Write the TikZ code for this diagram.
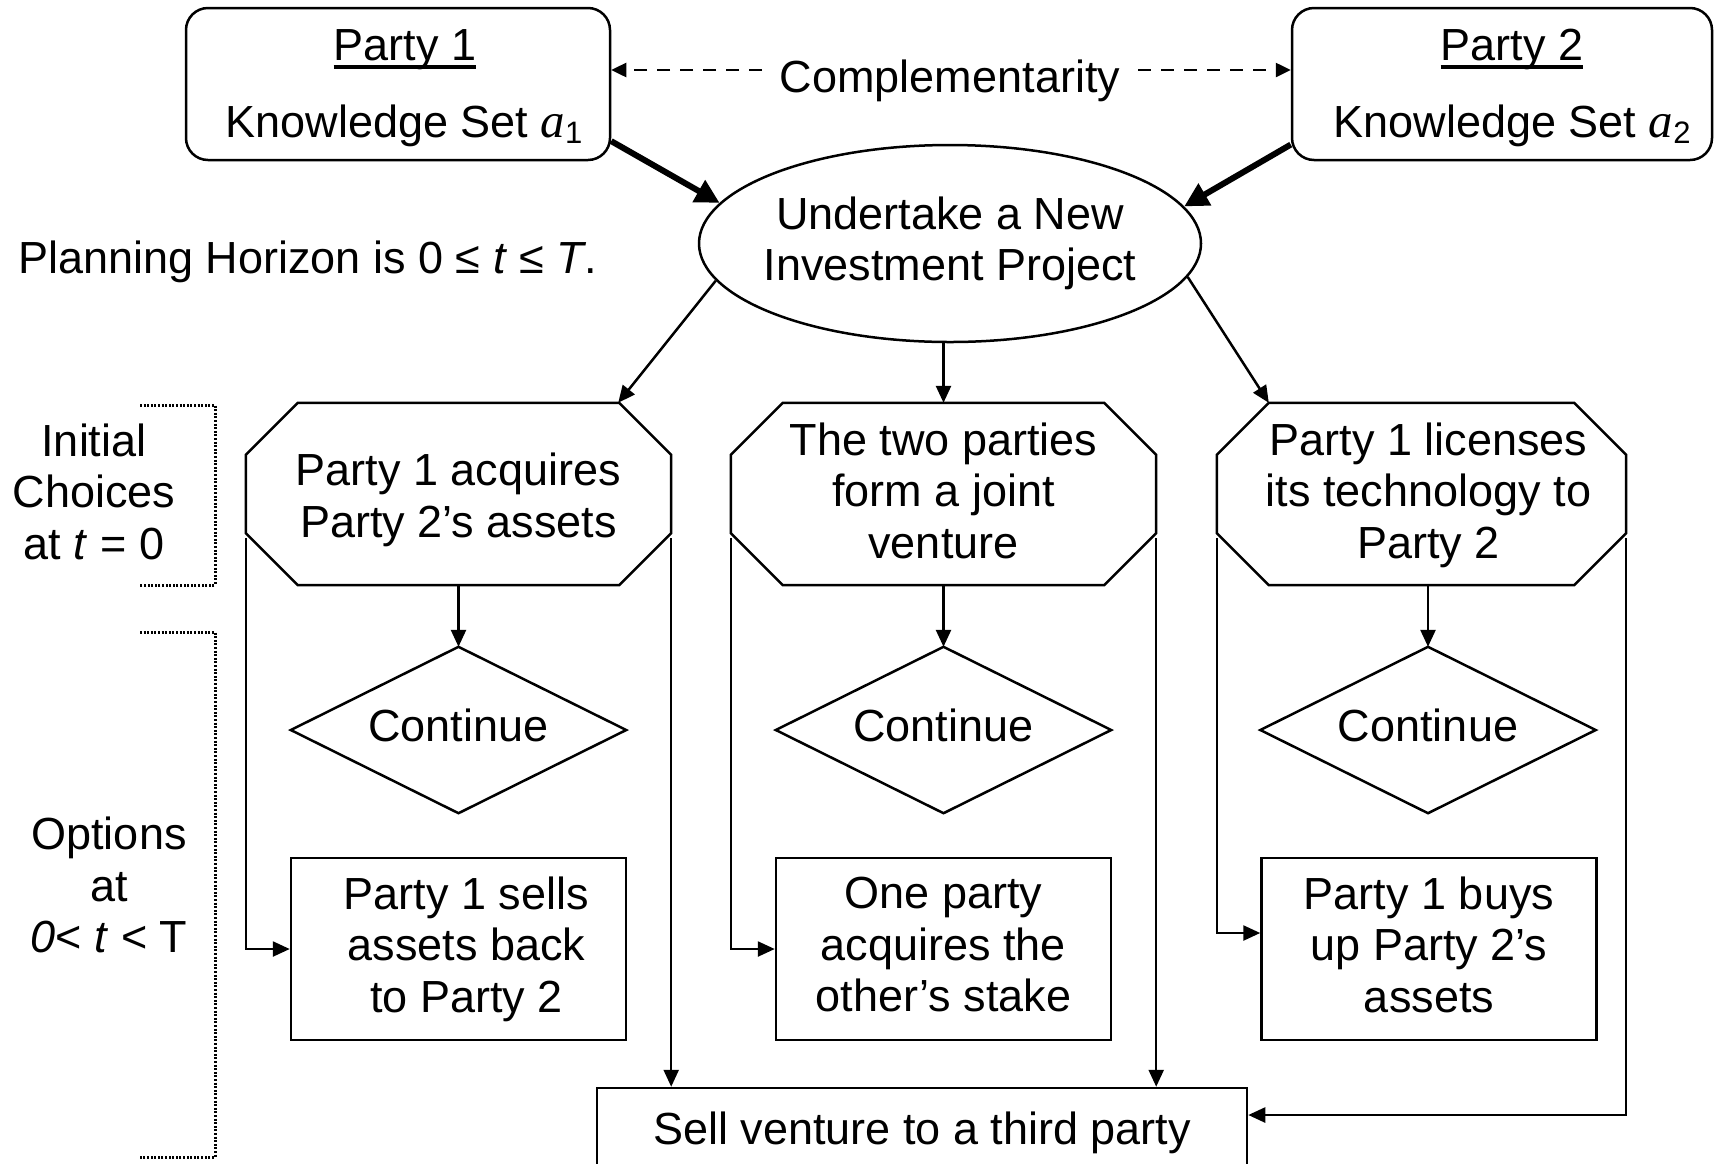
\documentclass[tikz,border=0pt]{standalone}
\usepackage{fontspec}
\setmainfont{Liberation Sans}
\newfontfamily\timesfont{Liberation Serif}
\usetikzlibrary{arrows.meta,calc,shapes.geometric}
\newcommand\kset[1]{{\timesfont\itshape\fontsize{49}{49}\selectfont a}\raisebox{-6pt}{\fontsize{31}{31}\selectfont #1}}
\newcommand\ph{\vphantom{Ag}}
\newlength\ulw
\newcommand\uln[1]{\settowidth\ulw{#1}#1\llap{\rule[-8.5pt]{\ulw}{3.2pt}}}
\newcommand\octpath[2]{\draw[ln] ($(#1.north west)+(#2,0)$) -- ($(#1.north east)+(-#2,0)$) -- ($(#1.north east)+(0,#2)$) -- ($(#1.south east)+(0,-#2)$) -- ($(#1.south east)+(-#2,0)$) -- ($(#1.south west)+(#2,0)$) -- ($(#1.south west)+(0,-#2)$) -- ($(#1.north west)+(0,#2)$) -- cycle;}
\newcommand\diapath[1]{\draw[ln] (#1.north) -- (#1.east) -- (#1.south) -- (#1.west) -- cycle;}
\tikzset{
  lbl/.style={inner sep=0pt, font=\fontsize{45}{51.5}\selectfont, align=center},
  ln/.style={line width=2.5pt},
  arr/.style={line width=2.5pt, -{Triangle[length=17pt,width=15pt]}},
  thickarr/.style={line width=6pt, -{Triangle[length=24pt,width=24pt]}},
  dasharr/.style={line width=2.5pt, dash pattern=on 13pt off 10pt, -{Triangle[length=15pt,width=14pt]}},
  brk/.style={line width=3pt, dash pattern=on 2pt off 1.6pt},
  rbox/.style={draw, ln, lbl, minimum width=335pt, minimum height=182pt},
}
\begin{document}
\begin{tikzpicture}[x=1pt,y=-1pt]
\useasboundingbox (0,0) rectangle (1715,1163);
\clip (0,0) rectangle (1715,1163);
\fill[white] (0,0) rectangle (1715,1163);

% top party boxes
\node[draw, ln, rounded corners=22pt, minimum width=424pt, minimum height=152pt, inner sep=0pt] (p1) at (398,84) {};
\node[lbl, anchor=base] (p1t) at (405,60) {\uln{Party 1}};
\node[lbl, anchor=base] (p1k) at (404,137) {Knowledge Set \kset{1}};
\node[draw, ln, rounded corners=22pt, minimum width=420pt, minimum height=152pt, inner sep=0pt] (p2) at (1502,84) {};
\node[lbl, anchor=base] (p2t) at (1512,60) {\uln{Party 2}};
\node[lbl, anchor=base] (p2k) at (1512,137) {Knowledge Set \kset{2}};

\node[lbl, anchor=base] (c) at (950,92) {Complementarity};
\coordinate (cl) at (762,70);
\coordinate (cr) at (1138,70);
\draw[dasharr] (cl) -- (p1.east |- cl);
\draw[dasharr] (cr) -- (p2.west |- cr);

% ellipse
\node[draw, ln, ellipse, minimum width=502pt, minimum height=197pt, inner sep=0pt] (e) at (950,243.5) {};
\node[lbl] (et) at (e.center) {\ph Undertake a New\\Investment Project\ph};
\draw[thickarr] (p1.-15.4) -- (e.170.7);
\draw[thickarr] (p2.196) -- (e.9.1);

\node[lbl, anchor=base west] (ph) at (18,273) {Planning Horizon is 0 ≤ \textit{t} ≤ \textit{T}.};

% octagons
\node[minimum width=425pt, minimum height=182pt, inner sep=0pt] (o1) at (458.5,494) {};
\node[minimum width=425pt, minimum height=182pt, inner sep=0pt] (o2) at (943.5,494) {};
\node[minimum width=409pt, minimum height=182pt, inner sep=0pt] (o3) at (1421.5,494) {};
\octpath{o1}{52}
\octpath{o2}{52}
\octpath{o3}{52}
\node[lbl] (o1t) at (458.5,500) {\ph Party 1 acquires\\Party 2’s assets\ph};
\node[lbl] (o2t) at (943.5,495) {\ph The two parties\\form a joint\\venture\ph};
\node[lbl] (o3t) at (1428.5,495) {\ph Party 1 licenses\\its technology to\\Party 2\ph};
\coordinate (o1tr) at ($(o1.north east)+(-53,0)$);
\coordinate (o3tl) at ($(o3.north west)+(52,0)$);
\draw[arr] (e.189.5) -- (o1tr);
\draw[arr] (o2.north |- e.south) -- (o2.north);
\draw[arr] (e.-8.7) -- (o3tl);

% diamonds
\node[lbl, minimum width=335pt, minimum height=166pt] (d1) at (458.5,730) {\ph Continue\ph};
\node[lbl, minimum width=335pt, minimum height=166pt] (d2) at (943.5,730) {\ph Continue\ph};
\node[lbl, minimum width=335pt, minimum height=166pt] (d3) at (1428,730) {\ph Continue\ph};
\diapath{d1}
\diapath{d2}
\diapath{d3}
\draw[arr] (d1.north |- o1.south) -- (d1.north);
\draw[arr] (d2.north |- o2.south) -- (d2.north);
\draw[arr] (d3.north |- o3.south) -- (d3.north);

% option boxes
\node[rbox] (b1) at (458.5,949) {\ph\hspace*{16pt}Party 1 sells\\\hspace*{16pt}assets back\\\hspace*{16pt}to Party 2\ph};
\node[rbox] (b2) at (943.5,949) {\ph One party\\acquires the\\other’s stake\ph};
\node[rbox] (b3) at (1429,949) {\ph Party 1 buys\\up Party 2’s\\assets\ph};

% bottom box
\node[draw, ln, lbl, minimum width=650pt, minimum height=90pt] (s) at (922,1133) {\ph Sell venture to a third party\ph};

% feedback connectors
\draw[arr] ($(o1.south west)+(0,-47)$) |- (b1.west);
\draw[arr] ($(o2.south west)+(0,-47)$) |- (b2.west);
\draw[arr] ($(o3.south west)+(0,-47)$) |- ([yshift=16pt]b3.west);
\draw[arr] ($(o1.south east)+(0,-47)$) -- (o1.south east |- s.north);
\draw[arr] ($(o2.south east)+(0,-47)$) -- (o2.south east |- s.north);
\draw[arr] ($(o3.south east)+(0,-47)$) |- ([yshift=18pt]s.east);

% left annotations
\node[lbl] (ic) at (94,496) {\ph Initial\\Choices\\at \textit{t} = 0\ph};
\node[lbl] (opt) at (109,889.5) {\ph Options\\at\\\textit{0}< \textit{t} < T\ph};
\draw[brk] (140,405) -- (215,405) -- (215,585) -- (140,585);
\draw[brk] (140,632) -- (215,632) -- (215,1157) -- (140,1157);
\end{tikzpicture}
\end{document}
